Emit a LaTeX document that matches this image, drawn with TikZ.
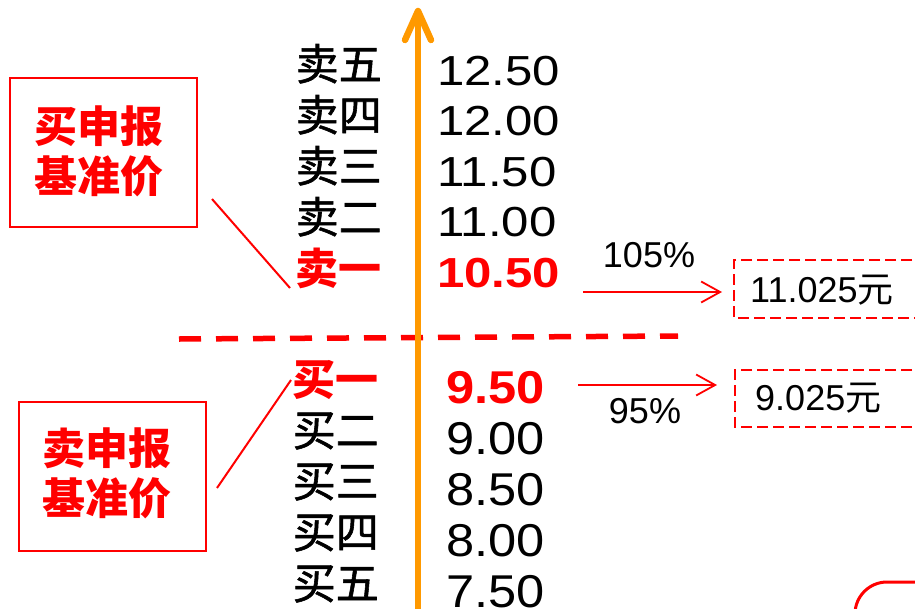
\documentclass[tikz,border=0pt]{standalone}
\usepackage{fontspec}
\setmainfont{Liberation Sans}
\newfontfamily\cjk{Noto Sans CJK SC}
\newfontfamily\cjkm[FakeBold=1.3]{Noto Sans CJK SC}
\newfontfamily\numA[FakeStretch=1.17]{Liberation Sans}
\newfontfamily\numB[FakeStretch=1.1]{Liberation Sans}
\usetikzlibrary{arrows.meta}
\definecolor{myred}{RGB}{255,0,0}
\definecolor{myorange}{RGB}{255,153,0}
\begin{document}
\begin{tikzpicture}[x=1pt,y=-1pt,
  lab/.style={inner sep=0pt, anchor=base east, font=\fontsize{43}{43}\selectfont\cjkm},
  labred/.style={inner sep=0pt, anchor=base east, text=myred, font=\fontsize{43}{43}\selectfont\cjk\bfseries},
  numtop/.style={inner sep=0pt, anchor=base west, font=\fontsize{42}{42}\selectfont\numA},
  numbot/.style={inner sep=0pt, anchor=base west, font=\fontsize{46}{46}\selectfont\numB},
  redbox/.style={draw=myred, line width=2pt, minimum width=187pt, minimum height=149pt, inner sep=0pt},
  boxtxt/.style={text=myred, align=center, inner sep=0pt, font=\fontsize{43}{50}\selectfont\cjk\bfseries},
  pct/.style={inner sep=0pt, anchor=base, font=\fontsize{36}{36}\selectfont},
  valtxt/.style={inner sep=0pt, anchor=base west, font=\fontsize{36}{36}\selectfont},
  dbox/.style={draw=myred, line width=2.2pt, dash pattern=on 11pt off 5pt},
  pointer/.style={draw=myred, line width=2pt},
  parrow/.style={draw=myred, line width=1.8pt, -{Straight Barb[length=19pt,width=21pt]}}
]
\useasboundingbox (0,0) rectangle (915,608);

% separator
\draw[myred, line width=5.5pt, dash pattern=on 22pt off 15pt] (179,339) -- (678,336);

% orange axis
\draw[myorange, line width=6.5pt, line cap=round, line join=round] (418,620) -- (418,11);
\draw[myorange, line width=6.5pt, line cap=round, line join=round] (405,40) -- (418,11) -- (431,40);

% sell side
\node[lab] (s5) at (382,80) {卖五};
\node[lab] (s4) at (382,131) {卖四};
\node[lab] (s3) at (382,182) {卖三};
\node[lab] (s2) at (382,233) {卖二};
\node[labred] (s1) at (382,284) {卖一};
\node[numtop] (p5) at (437,85) {12.50};
\node[numtop] (p4) at (437,135.5) {12.00};
\node[numtop] (p3) at (437,186) {11.50};
\node[numtop] (p2) at (437,236.5) {11.00};
\node[numtop, text=myred, font=\fontsize{42}{42}\selectfont\numA\bfseries] (p1) at (437,287) {10.50};

% buy side
\node[labred] (b1) at (379,395) {买一};
\node[lab] (b2) at (379,446) {买二};
\node[lab] (b3) at (379,497) {买三};
\node[lab] (b4) at (379,548) {买四};
\node[lab] (b5) at (379,599) {买五};
\node[numbot, text=myred, font=\fontsize{46}{46}\selectfont\numB\bfseries] (q1) at (446,403) {9.50};
\node[numbot] (q2) at (446,454) {9.00};
\node[numbot] (q3) at (446,505) {8.50};
\node[numbot] (q4) at (446,556) {8.00};
\node[numbot] (q5) at (446,607) {7.50};

% reference price boxes
\node[redbox] (rb1) at (103.5,152.5) {};
\node[boxtxt] (rt1) at (99,151) {买申报\\基准价};
\node[redbox] (rb2) at (112,476.5) {};
\node[boxtxt] (rt2) at (106.5,473) {卖申报\\基准价};

\coordinate (c1a) at (212,199);
\coordinate (c1b) at (290,288);
\draw[pointer] (c1a) -- (c1b);
\coordinate (c2a) at (217,488);
\coordinate (c2b) at (291,380);
\draw[pointer] (c2a) -- (c2b);

% percentage arrows
\coordinate (a1s) at (583,292);
\coordinate (a1e) at (722,292);
\draw[parrow] (a1s) -- (a1e);
\coordinate (a2s) at (578,385);
\coordinate (a2e) at (717,385);
\draw[parrow] (a2s) -- (a2e);
\node[pct] (pc1) at (649,267) {105\%};
\node[pct] (pc2) at (645,423) {95\%};

% result boxes
\begin{scope}
\clip (0,0) rectangle (915,608);
\draw[dbox] (960,260) -- (734,260) -- (734,318) -- (960,318);
\draw[dbox] (960,370) -- (735,370) -- (735,427) -- (960,427);
\draw[myred, line width=3pt, rounded corners=32pt] (855,700) -- (855,582) -- (980,582);
\end{scope}
\node[valtxt] (v1) at (750,302) {11.025{\cjk 元}};
\node[valtxt] (v2) at (755,410) {9.025{\cjk 元}};
\end{tikzpicture}
\end{document}
